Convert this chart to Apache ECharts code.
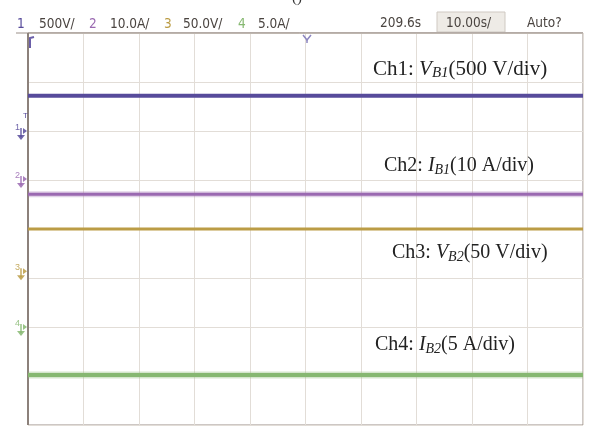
<!DOCTYPE html>
<html>
<head>
<meta charset="utf-8">
<script src="https://cdn.jsdelivr.net/npm/echarts@6/dist/echarts.min.js"></script>
<style>
  html, body { margin: 0; padding: 0; background: #ffffff; }
  #chart { width: 593px; height: 429px; }
</style>
</head>
<body>
<div id="chart"></div>
<script>
// Horizontal span in divisions (10 div across the screen)
const timeDivs = [0, 10];
// Trace levels in divisions from screen centre (+4 top, -4 bottom)
const ch1Level = [2.72, 2.72];
const ch2Level = [0.71, 0.71];
const ch3Level = [0.0, 0.0];
const ch4Level = [-2.98, -2.98];
// Ground reference markers (division level of each channel's zero)
const groundLevels = [2.0, 1.02, -0.86, -2.0];
const channelNames = ['1', '2', '3', '4'];
// Header scale settings
const scaleText = ['500V/', '10.0A/', '50.0V/', '5.0A/'];
const colors = ['#574b9b', '#9a69b1', '#bb9c45', '#86b871'];

const chart = echarts.init(document.getElementById('chart'));
const gridLeft = 28, gridTop = 33, gridRight = 583, gridBottom = 425;

function series(name, lvl, color, width, opacity) {
  return {
    name, type: 'line', data: timeDivs.map((t, i) => [t, lvl[i]]),
    showSymbol: false, silent: true,
    lineStyle: { color, width, opacity: opacity == null ? 1 : opacity }
  };
}

const option = {
  animation: false,
  backgroundColor: '#ffffff',
  grid: {
    left: gridLeft, top: gridTop, right: 593 - gridRight, bottom: 429 - gridBottom,
    show: true, borderColor: '#9a8f88', borderWidth: 1
  },
  xAxis: {
    type: 'value', min: 0, max: 10, interval: 1,
    axisLine: { show: false }, axisTick: { show: false }, axisLabel: { show: false },
    splitLine: { show: true, lineStyle: { color: '#e2ddd7', width: 1 } }
  },
  yAxis: {
    type: 'value', min: -4, max: 4, interval: 1,
    axisLine: { show: false }, axisTick: { show: false }, axisLabel: { show: false },
    splitLine: { show: true, lineStyle: { color: '#e2ddd7', width: 1 } }
  },
  series: [
    series('Ch3', ch3Level, colors[2], 3),
    // soft halo for the noisy current traces
    series('Ch4 band', ch4Level, colors[3], 7, 0.35),
    series('Ch4', ch4Level, colors[3], 4),
    series('Ch2 band', ch2Level, colors[1], 6, 0.3),
    series('Ch2', ch2Level, colors[1], 3),
    series('Ch1', ch1Level, colors[0], 4)
  ]
};
chart.setOption(option);

const g = [];
const hdrFont = '13.5px "DejaVu Sans Condensed", sans-serif';
function hdr(x, text, fill) {
  g.push({ type: 'text', x, y: 24, style: { text, fill, font: hdrFont, verticalAlign: 'middle' } });
}
// header row
const headerX = [[17, 39], [89, 110], [164, 183], [238, 258]];
for (let i = 0; i < 4; i++) {
  hdr(headerX[i][0], channelNames[i], colors[i]);
  hdr(headerX[i][1], scaleText[i], '#4a4440');
}
g.push({ type: 'rect', shape: { x: 437, y: 12, width: 68, height: 20 }, style: { fill: '#eeebe6', stroke: '#cfc9c2', lineWidth: 1 } });
g.push({ type: 'text', x: 380, y: 23, style: { text: '209.6s', fill: '#4a4440', font: hdrFont, verticalAlign: 'middle' } });
g.push({ type: 'text', x: 446, y: 23, style: { text: '10.00s/', fill: '#4a4440', font: hdrFont, verticalAlign: 'middle' } });
g.push({ type: 'text', x: 527, y: 23, style: { text: 'Auto?', fill: '#4a4440', font: hdrFont, verticalAlign: 'middle' } });
// clipped caption at very top
g.push({ type: 'text', x: 292, y: -9, style: { text: '()', fill: '#333', font: '15px "Liberation Serif", serif' } });
// header separator extending past the grid on the left
g.push({ type: 'line', shape: { x1: 16, y1: gridTop, x2: gridRight, y2: gridTop }, style: { stroke: '#9a8f88', lineWidth: 1 } });
// thicker left border
g.push({ type: 'line', shape: { x1: gridLeft, y1: gridTop, x2: gridLeft, y2: gridBottom }, style: { stroke: '#8c817b', lineWidth: 2 } });
// trigger position marker
g.push({ type: 'polyline', shape: { points: [[303, 35], [307, 40], [311, 35]] }, style: { stroke: '#8c86c0', lineWidth: 1.5, fill: 'none' } });
g.push({ type: 'line', shape: { x1: 307, y1: 40, x2: 307, y2: 43 }, style: { stroke: '#8c86c0', lineWidth: 1.5 } });
// horizontal position marker at top-left
g.push({ type: 'polyline', shape: { points: [[30, 48], [30, 38], [34, 37]] }, style: { stroke: '#6a5ea8', lineWidth: 2, fill: 'none' } });

// ground markers on the left edge
groundLevels.forEach((lvl, i) => {
  const p = chart.convertToPixel({ gridIndex: 0 }, [0, lvl]);
  const y = p[1];
  g.push({ type: 'text', x: 15, y: y - 8, style: { text: channelNames[i], fill: colors[i], font: '9px sans-serif', opacity: 0.85 } });
  g.push({ type: 'polygon', shape: { points: [[23, y - 3], [27, y], [23, y + 3]] }, style: { fill: colors[i], opacity: 0.85 } });
  g.push({ type: 'line', shape: { x1: 21, y1: y - 3, x2: 21, y2: y + 6 }, style: { stroke: colors[i], lineWidth: 1.5, opacity: 0.85 } });
  g.push({ type: 'polygon', shape: { points: [[17, y + 4], [25, y + 4], [21, y + 9]] }, style: { fill: colors[i], opacity: 0.85 } });
});
// trigger level "T" above channel 1 ground
{
  const p = chart.convertToPixel({ gridIndex: 0 }, [0, groundLevels[0]]);
  g.push({ type: 'text', x: 23, y: p[1] - 19, style: { text: 'T', fill: colors[0], font: '8px sans-serif' } });
}

// channel annotations
const serif = '"Liberation Serif", "Times New Roman", serif';
function richFor(size) {
  return {
    n: { fontFamily: serif, fontSize: size, fill: '#222' },
    v: { fontFamily: serif, fontSize: size, fontStyle: 'italic', fill: '#222' },
    s: { fontFamily: serif, fontSize: Math.round(size * 0.7), fontStyle: 'italic', fill: '#222', padding: [Math.round(size * 0.4), 0, 0, 0] }
  };
}
const notes = [
  { x: 373, y: 69, size: 21, t: '{n|Ch1: }{v|V}{s|B1}{n|(500 V/div)}' },
  { x: 384, y: 166, size: 20, t: '{n|Ch2: }{v|I}{s|B1}{n|(10 A/div)}' },
  { x: 392, y: 253, size: 20, t: '{n|Ch3: }{v|V}{s|B2}{n|(50 V/div)}' },
  { x: 375, y: 345, size: 20, t: '{n|Ch4: }{v|I}{s|B2}{n|(5 A/div)}' }
];
notes.forEach(nt => {
  g.push({ type: 'text', x: nt.x, y: nt.y, style: { text: nt.t, rich: richFor(nt.size), verticalAlign: 'middle' } });
});

chart.setOption({ graphic: { elements: g } });
</script>
</body>
</html>
